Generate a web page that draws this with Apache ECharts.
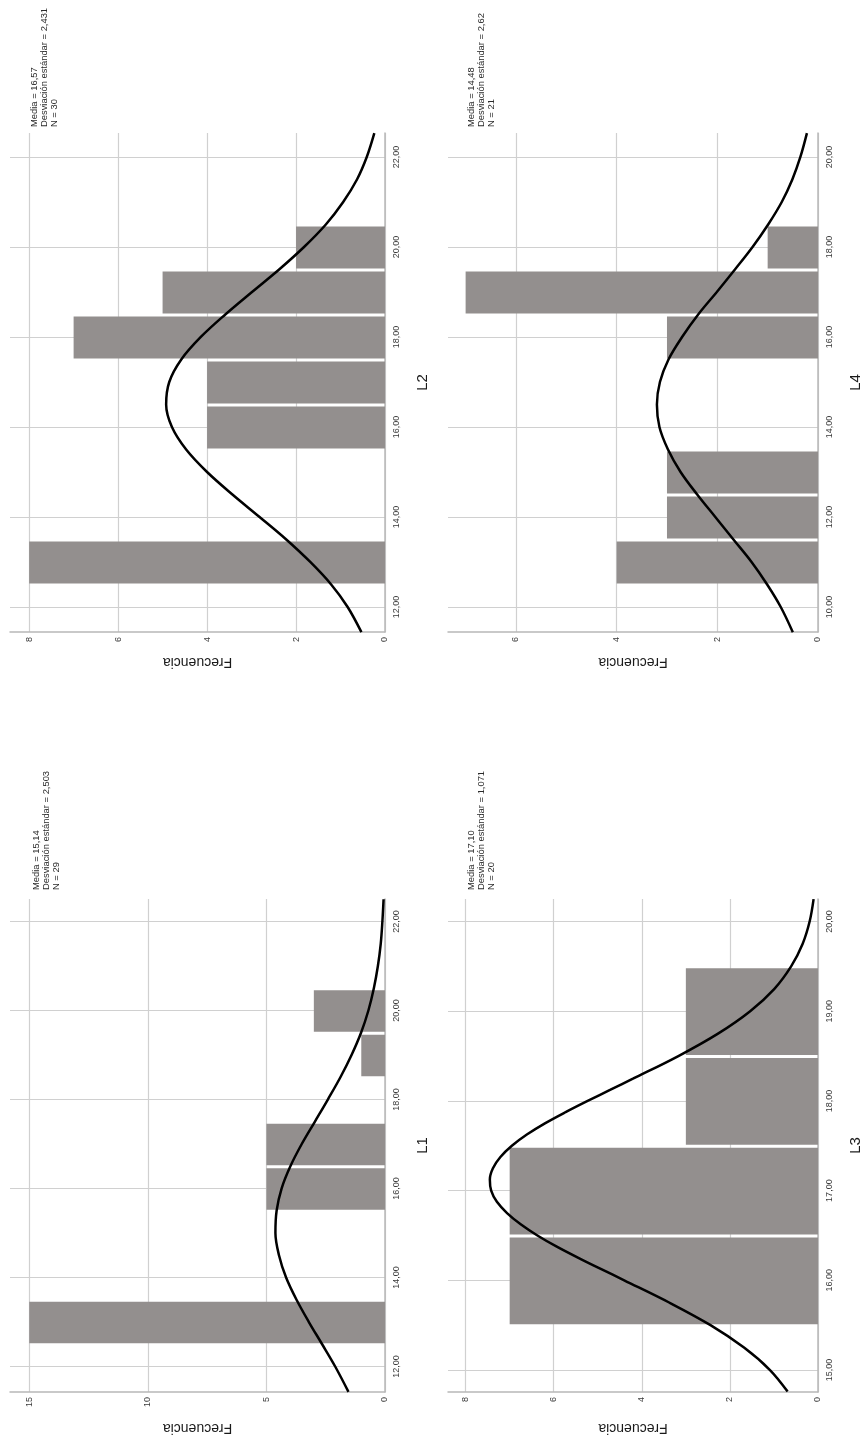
<!DOCTYPE html>
<html><head><meta charset="utf-8">
<script src="https://cdn.jsdelivr.net/npm/echarts@6/dist/echarts.min.js"></script>
<style>html,body{margin:0;padding:0;background:#fff}#c{width:864px;height:1441px}</style>
</head><body><div id="c"></div>
<script>
// ---------- data ----------
const L2_bins = [13, 16, 17, 18, 19, 20];
const L2_freq = [8, 4, 4, 7, 5, 2];
const L2_stats = ['Media = 16,57', 'Desviación estándar = 2,431', 'N = 30'];
const L2_scoreTicks = [12, 14, 16, 18, 20, 22];
const L2_freqTicks = [0, 2, 4, 6, 8];
const L2_curveScore = [11.44, 12, 12.5, 13, 13.5, 14, 14.5, 15, 15.5, 16, 16.5, 17, 17.5, 18, 18.5, 19, 19.5, 20, 20.5, 21, 21.5, 22, 22.53];
const L2_curveFreq = [0.53, 0.84, 1.21, 1.68, 2.22, 2.82, 3.43, 4.00, 4.47, 4.79, 4.92, 4.85, 4.58, 4.14, 3.59, 2.99, 2.38, 1.82, 1.33, 0.94, 0.63, 0.41, 0.24];

const L4_bins = [11, 12, 13, 16, 17, 18];
const L4_freq = [4, 3, 3, 3, 7, 1];
const L4_stats = ['Media = 14,48', 'Desviación estándar = 2,62', 'N = 21'];
const L4_scoreTicks = [10, 12, 14, 16, 18, 20];
const L4_freqTicks = [0, 2, 4, 6];
const L4_curveScore = [9.44, 10, 10.5, 11, 11.5, 12, 12.5, 13, 13.5, 14, 14.5, 15, 15.5, 16, 16.5, 17, 17.5, 18, 18.5, 19, 19.5, 20, 20.53];
const L4_curveFreq = [0.50, 0.74, 1.01, 1.32, 1.68, 2.04, 2.40, 2.73, 2.98, 3.15, 3.20, 3.14, 2.97, 2.70, 2.38, 2.01, 1.65, 1.30, 0.99, 0.72, 0.51, 0.35, 0.22];

const L1_bins = [13, 16, 17, 19, 20];
const L1_freq = [15, 5, 5, 1, 3];
const L1_stats = ['Media = 15,14', 'Desviación estándar = 2,503', 'N = 29'];
const L1_scoreTicks = [12, 14, 16, 18, 20, 22];
const L1_freqTicks = [0, 5, 10, 15];
const L1_curveScore = [11.43, 12, 12.5, 13, 13.5, 14, 14.5, 15, 15.5, 16, 16.5, 17, 17.5, 18, 18.5, 19, 19.5, 20, 20.5, 21, 21.5, 22, 22.5];
const L1_curveFreq = [1.54, 2.10, 2.65, 3.21, 3.73, 4.17, 4.47, 4.62, 4.57, 4.36, 3.99, 3.51, 2.96, 2.41, 1.88, 1.41, 1.01, 0.70, 0.47, 0.30, 0.18, 0.11, 0.06];

const L3_bins = [16, 17, 18, 19];
const L3_freq = [7, 7, 3, 3];
const L3_stats = ['Media = 17,10', 'Desviación estándar = 1,071', 'N = 20'];
const L3_scoreTicks = [15, 16, 17, 18, 19, 20];
const L3_freqTicks = [0, 2, 4, 6, 8];
const L3_curveScore = [14.76, 15, 15.25, 15.5, 15.75, 16, 16.125, 16.25, 16.375, 16.5, 16.625, 16.75, 16.875, 17, 17.125, 17.25, 17.375, 17.5, 17.625, 17.75, 17.875, 18, 18.125, 18.25, 18.5, 18.75, 19, 19.25, 19.5, 19.75, 20, 20.25];
const L3_curveFreq = [0.69, 1.09, 1.68, 2.44, 3.37, 4.40, 4.92, 5.44, 5.93, 6.37, 6.75, 7.06, 7.29, 7.42, 7.45, 7.38, 7.21, 6.95, 6.61, 6.20, 5.73, 5.23, 4.71, 4.19, 3.17, 2.27, 1.54, 0.99, 0.61, 0.35, 0.19, 0.10];

// ---------- layout ----------
const panels = [
  {title: 'L2', bins: L2_bins, freq: L2_freq, stats: L2_stats, sT: L2_scoreTicks, fT: L2_freqTicks, cS: L2_curveScore, cF: L2_curveFreq,
   grid: {left: 10, top: 133, width: 375, height: 499}, xMax: 8.43, yMin: 11.444, yMax: 22.533, statsAt: [29, 127], fGap: 23},
  {title: 'L4', bins: L4_bins, freq: L4_freq, stats: L4_stats, sT: L4_scoreTicks, fT: L4_freqTicks, cS: L4_curveScore, cF: L4_curveFreq,
   grid: {left: 448, top: 133, width: 373, height: 499}, xMax: 7.35, yMin: 9.444, yMax: 20.533, statsAt: [466, 127], fGap: 23},
  {title: 'L1', bins: L1_bins, freq: L1_freq, stats: L1_stats, sT: L1_scoreTicks, fT: L1_freqTicks, cS: L1_curveScore, cF: L1_curveFreq,
   grid: {left: 10, top: 899, width: 375, height: 493}, xMax: 15.81, yMin: 11.427, yMax: 22.506, statsAt: [31, 890], fGap: 29},
  {title: 'L3', bins: L3_bins, freq: L3_freq, stats: L3_stats, sT: L3_scoreTicks, fT: L3_freqTicks, cS: L3_curveScore, cF: L3_curveFreq,
   grid: {left: 448, top: 899, width: 374, height: 493}, xMax: 8.40, yMin: 14.755, yMax: 20.251, statsAt: [466, 890], fGap: 29}
];

const FONT = 'Liberation Sans, Arial, sans-serif';
const fmtScore = v => Number(v).toFixed(2).replace('.', ',');

const option = {
  backgroundColor: '#ffffff',
  animation: false,
  grid: panels.map(p => Object.assign({containLabel: false}, p.grid)),
  xAxis: panels.map((p, i) => ({
    gridIndex: i, type: 'value', inverse: true, min: 0, max: p.xMax, position: 'bottom',
    name: 'Frecuencia', nameLocation: 'middle', nameGap: p.fGap, nameRotate: 180,
    nameTextStyle: {fontSize: 14, color: '#1a1a1a', fontFamily: FONT},
    axisLine: {show: true, onZero: false, lineStyle: {color: '#b8b8b8', width: 1.5}},
    axisTick: {show: false, customValues: p.fT},
    axisLabel: {customValues: p.fT, rotate: 90, fontSize: 9, color: '#3a3a3a', fontFamily: FONT, margin: 5,
                showMinLabel: true, showMaxLabel: true},
    splitLine: {show: true, lineStyle: {color: '#d0d0d0', width: 1.2}}
  })),
  yAxis: panels.map((p, i) => ({
    gridIndex: i, type: 'value', min: p.yMin, max: p.yMax, position: 'right',
    name: p.title, nameLocation: 'middle', nameGap: 30, nameRotate: 90,
    nameTextStyle: {fontSize: 15, color: '#1a1a1a', fontFamily: FONT},
    axisLine: {show: true, onZero: false, lineStyle: {color: '#b8b8b8', width: 1.5}},
    axisTick: {show: false, customValues: p.sT},
    axisLabel: {customValues: p.sT, rotate: 90, fontSize: 9, color: '#3a3a3a', fontFamily: FONT, margin: 7,
                formatter: fmtScore, showMinLabel: true, showMaxLabel: true},
    splitLine: {show: true, lineStyle: {color: '#d0d0d0', width: 1.2}}
  })),
  series: [].concat(...panels.map((p, i) => [
    {
      type: 'custom', xAxisIndex: i, yAxisIndex: i, z: 2,
      data: p.bins.map((b, k) => [p.freq[k], b]),
      encode: {x: 0, y: 1},
      renderItem: (params, api) => {
        const f = api.value(0), b = api.value(1);
        const a = api.coord([0, b - 0.5]);
        const c = api.coord([f, b + 0.5]);
        const x0 = Math.min(a[0], c[0]), x1 = Math.max(a[0], c[0]);
        const y0 = Math.min(a[1], c[1]) + 2, y1 = Math.max(a[1], c[1]) - 1;
        return {type: 'rect', shape: {x: x0, y: y0, width: x1 - x0, height: y1 - y0},
                style: {fill: '#938f8e'}};
      }
    },
    {
      type: 'line', xAxisIndex: i, yAxisIndex: i, z: 5,
      data: p.cS.map((s, k) => [p.cF[k], s]),
      showSymbol: false, smooth: 0.35, silent: true,
      lineStyle: {color: '#000', width: 2.5}
    }
  ])),
  graphic: panels.map(p => ({
    type: 'text', x: p.statsAt[0], y: p.statsAt[1], rotation: Math.PI / 2, z: 10,
    style: {text: p.stats.join('\n'), font: '9.4px ' + FONT, fill: '#2a2a2a',
            textAlign: 'left', textVerticalAlign: 'top', verticalAlign: 'top', lineHeight: 10}
  }))
};

const chart = echarts.init(document.getElementById('c'), null, {renderer: 'canvas'});
chart.setOption(option);
</script>
</body></html>
